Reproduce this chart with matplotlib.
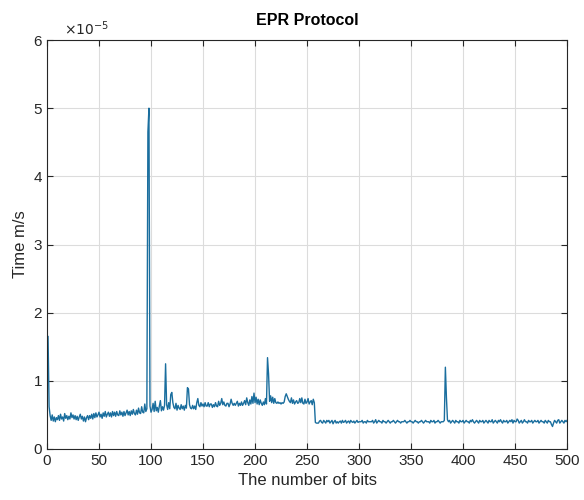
import numpy as np
import matplotlib.pyplot as plt

# time per bit, in units of 1e-6
t_part1 = [
    16.5, 6.2, 4.9, 4.2, 5.0, 4.1, 4.7, 4.0, 4.6, 4.3, 4.9, 4.2, 5.1, 4.4, 4.7, 4.1, 5.2, 4.5, 4.9, 4.3,
    4.8, 4.4, 5.3, 4.6, 5.0, 4.4, 4.9, 4.3, 4.8, 4.2, 4.7, 5.1, 4.4, 4.8, 4.1, 4.7, 4.0, 4.6, 4.9, 4.3,
    4.9, 4.5, 5.1, 4.4, 5.2, 4.6, 5.3, 4.7, 5.0, 5.4, 4.7, 5.1, 4.5, 5.3, 4.8, 5.5, 4.7, 5.1, 5.4, 4.8,
    5.3, 4.7, 5.5, 4.9, 5.4, 4.8, 5.5, 5.0, 4.9, 5.6, 5.0, 5.4, 4.8, 5.5, 4.9, 5.3, 5.7, 5.0, 5.5, 4.9,
    5.6, 5.1, 5.8, 5.2, 5.0, 5.7, 5.1, 6.0, 5.3, 5.2, 6.2, 5.4, 5.3, 6.6, 5.5, 5.9, 46.5, 50.0, 6.3, 5.4,
    5.8, 6.7, 5.5, 7.0, 5.6, 6.1, 5.4, 6.3, 7.1, 5.6, 6.2, 5.7, 6.4, 12.5, 6.5, 5.8, 6.8, 5.9, 8.0, 8.3,
    6.8, 6.1, 5.9, 6.7, 5.7, 6.4, 6.0, 5.8, 6.5, 5.9, 6.3, 5.7, 6.4, 6.0, 9.0, 8.8, 6.5, 6.0, 5.9, 6.4,
    5.9, 6.3, 5.8, 6.8, 7.4, 6.4, 6.2, 6.8, 6.3, 6.6, 6.2, 6.8, 6.3, 6.3, 6.8, 6.2, 6.6, 6.6, 6.1, 6.5,
    6.2, 6.8, 6.3, 6.2, 7.0, 6.4, 6.7, 7.4, 6.5, 6.9, 6.4, 6.3, 6.7, 6.7, 6.2, 6.6, 7.3, 6.7, 6.4, 6.7,
    6.4, 6.7, 7.0, 6.3, 6.7, 6.4, 6.9, 6.4, 6.7, 7.1, 6.5, 7.5, 6.8, 6.4, 7.2, 6.6, 7.7, 6.7, 8.2, 6.8,
    7.6, 6.6, 7.3, 6.5, 7.2, 6.7, 6.4, 6.9, 6.5, 7.4, 6.6, 13.4, 11.0, 7.0, 7.8, 6.8, 7.6, 6.7, 7.4, 6.8,
    6.7, 6.9, 6.7, 6.8, 6.6, 6.8, 6.7, 6.9, 7.7, 8.1, 7.7, 7.3, 7.0, 6.8, 7.5, 6.7, 7.2, 6.6, 6.9, 7.1,
    6.7, 6.8, 7.4, 6.8, 7.5, 6.7, 6.6, 7.3, 6.7, 6.9, 7.4, 6.6, 6.9, 7.1, 6.5, 7.3, 6.8, 3.9, 3.8, 3.8,
]
t_part2 = [
    3.8, 4.1, 4.2, 3.9, 3.8, 4.2, 4.0, 3.8, 4.2, 4.0, 4.2, 3.8, 4.0, 4.2, 3.7, 4.0, 4.2, 3.8, 4.0, 3.8,
    4.0, 4.1, 3.8, 4.2, 3.9, 4.0, 4.2, 3.8, 4.0, 4.1, 3.8, 4.2, 4.0, 3.9, 4.1, 3.8, 4.0, 4.2, 3.9, 4.0,
    4.0, 4.0, 4.2, 3.8, 4.0, 4.0, 3.8, 4.2, 4.0, 4.0, 4.0, 4.0, 4.2, 3.8, 4.0, 4.3, 3.8, 4.0, 4.2, 4.0,
    4.0, 3.8, 4.2, 4.0, 4.0, 3.8, 4.0, 4.2, 4.0, 3.8, 4.0, 4.0, 4.2, 4.0, 3.8, 4.0, 4.2, 4.0, 4.0, 3.8,
    4.0, 4.0, 4.0, 4.2, 4.0, 3.8, 4.0, 4.0, 4.2, 4.0, 4.0, 3.8, 4.0, 4.2, 4.0, 4.0, 3.8, 4.0, 4.0, 4.2,
    4.0, 3.8, 4.0, 4.2, 4.0, 4.0, 4.0, 3.8, 4.2, 4.0, 4.0, 4.2, 3.8, 4.0, 4.0, 4.2, 4.0, 3.8, 4.0, 4.0,
    4.0, 4.2, 12.0, 7.6, 4.3, 4.0, 4.2, 3.8, 4.0, 4.2, 4.0, 3.8, 4.2, 4.0, 4.0, 3.8, 4.2, 4.0, 4.0, 4.2,
    3.8, 4.0, 4.2, 4.0, 4.0, 3.8, 4.2, 4.0, 4.3, 4.0, 3.8, 4.0, 4.2, 4.0, 3.8, 4.2, 4.0, 4.0, 4.2, 3.8,
    4.0, 4.2, 4.0, 3.8, 4.2, 4.0, 4.0, 4.3, 3.8, 4.0, 4.2, 4.0, 3.8, 4.2, 4.0, 4.3, 4.0, 3.8, 4.2, 4.0,
    4.0, 4.2, 3.8, 4.0, 4.2, 4.0, 4.3, 3.8, 4.2, 4.0, 4.0, 4.4, 4.2, 3.8, 4.0, 4.2, 3.8, 4.0, 4.3, 4.0,
    4.0, 3.8, 4.2, 4.0, 4.0, 4.2, 3.8, 4.0, 4.2, 4.0, 4.0, 4.2, 3.8, 4.0, 4.2, 4.0, 4.0, 3.8, 4.2, 4.0,
    3.8, 4.2, 4.0, 4.0, 3.6, 3.3, 3.8, 4.2, 4.0, 3.8, 4.2, 4.3, 3.8, 4.0, 4.2, 4.0, 3.8, 4.2, 4.0, 4.2,
]
times = np.array(t_part1 + t_part2) * 1e-6
bits = np.arange(1, len(times) + 1)

x_ticks = list(range(0, 501, 50))
y_ticks = [0, 1e-5, 2e-5, 3e-5, 4e-5, 5e-5, 6e-5]
y_labels = ['0', '1', '2', '3', '4', '5', '6']

plt.rcParams['font.family'] = ['Liberation Sans', 'DejaVu Sans']
fig = plt.figure(figsize=(5.84, 5.0), dpi=100)
ax = fig.add_axes([0.0805, 0.102, 0.8905, 0.818])

ax.plot(bits, times, color='#1a6e9e', lw=1.0)

ax.set_xlim(0, 500)
ax.set_ylim(0, 6e-5)
ax.set_xticks(x_ticks)
ax.set_yticks(y_ticks)
ax.set_yticklabels(y_labels)
ax.tick_params(direction='in', top=True, right=True, labelsize=11,
               length=4, width=0.8, colors='#262626')
ax.grid(True, color='#dcdcdc', lw=0.8)
ax.set_axisbelow(True)
for s in ax.spines.values():
    s.set_color('#262626')
    s.set_linewidth(0.8)

ax.set_title('EPR Protocol', fontsize=11.5, fontweight='bold', pad=11)
ax.set_xlabel('The number of bits', fontsize=12, color='#262626')
ax.set_ylabel('Time m/s', fontsize=12, color='#262626')
ax.text(0.032, 1.006, r'$\times10^{-5}$', transform=ax.transAxes,
        fontsize=10, color='#262626', ha='left', va='bottom')

fig.savefig('out.png', dpi=100)
